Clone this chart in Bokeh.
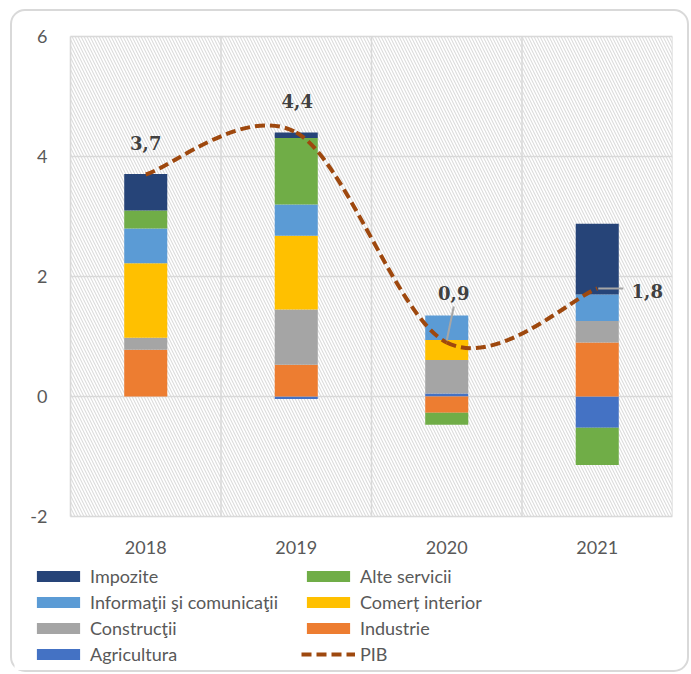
import numpy as np
from bokeh.plotting import figure
from bokeh.models import BoxAnnotation, Legend, LegendItem
from bokeh.core.properties import value
from bokeh.embed import file_html
from bokeh.resources import INLINE

# ---------------- data ----------------
years = ["2018", "2019", "2020", "2021"]
agricultura = [0.00, -0.04, 0.05, -0.52]
industrie = [0.78, 0.53, -0.27, 0.90]
constructii = [0.20, 0.92, 0.56, 0.36]
comert = [1.24, 1.23, 0.33, 0.00]
informatii = [0.58, 0.52, 0.41, 0.44]
alte_servicii = [0.30, 1.11, -0.20, -0.62]
impozite = [0.61, 0.09, 0.00, 1.18]
pib = [3.7, 4.4, 0.9, 1.8]
y_ticks = [-2, 0, 2, 4, 6]

series = [
    ("Agricultura", agricultura, "#4472C4"),
    ("Industrie", industrie, "#ED7D31"),
    ("Construcţii", constructii, "#A5A5A5"),
    ("Comerț interior", comert, "#FFC000"),
    ("Informaţii şi comunicaţii", informatii, "#5B9BD5"),
    ("Alte servicii", alte_servicii, "#70AD47"),
    ("Impozite", impozite, "#264478"),
]
pib_color = "#9E480E"
grid_color = "#D9D9D9"

# ---------------- layout (pixels) ----------------
PX, PY = 150.5, 60.0          # pixels per category / per unit
LEFT_EXTRA, BOTTOM_EXTRA, TOP_EXTRA = 56, 154, 14   # room for tick labels and legend
xs = np.arange(len(years))
x_lo, x_hi = xs[0] - 0.5, xs[-1] + 0.5
y_lo, y_hi = y_ticks[0], y_ticks[-1]

p = figure(
    frame_width=int(round((x_hi - x_lo) * PX)) + LEFT_EXTRA,
    frame_height=int(round((y_hi - y_lo) * PY)) + BOTTOM_EXTRA + TOP_EXTRA,
    x_range=(x_lo - LEFT_EXTRA / PX, x_hi),
    y_range=(y_lo - BOTTOM_EXTRA / PY, y_hi + TOP_EXTRA / PY),
    x_axis_location=None, y_axis_location=None,
    output_backend="svg", toolbar_location=None,
    min_border_left=2, min_border_top=25 - TOP_EXTRA, min_border_right=15,
    min_border_bottom=0,
)
p.styles = {"border": "2px solid #D9D9D9", "border-radius": "15px",
            "margin": "9px 0px 0px 10px"}
p.border_fill_color = None
p.background_fill_color = "white"
p.outline_line_color = None
p.xgrid.visible = False
p.ygrid.visible = False

# hatched plot area with light border
p.add_layout(BoxAnnotation(left=x_lo, right=x_hi, bottom=y_lo, top=y_hi,
                           fill_alpha=0, line_color=grid_color, line_width=1.5,
                           hatch_pattern="\\", hatch_color="#DCDCDC",
                           hatch_scale=6, hatch_weight=1.1, level="image"))

# grid lines restricted to the plot area
p.segment(x0=[x_lo] * len(y_ticks), x1=[x_hi] * len(y_ticks), y0=y_ticks, y1=y_ticks,
          line_color=grid_color, line_width=1.5)
bounds_x = list(np.arange(x_lo, x_hi + 0.01, 1.0))
p.segment(x0=bounds_x, x1=bounds_x, y0=[y_lo] * len(bounds_x), y1=[y_hi] * len(bounds_x),
          line_color=grid_color, line_width=1.5)

# tick labels
p.text(x=[x_lo] * len(y_ticks), y=y_ticks, text=[str(t) for t in y_ticks],
       x_offset=-23, text_font=value("Lato"), text_font_size="18px",
       text_color="#595959", text_align="right", text_baseline="middle")
p.text(x=xs, y=[y_lo] * len(years), text=years, y_offset=31,
       text_font=value("Lato"), text_font_size="18px",
       text_color="#595959", text_align="center", text_baseline="middle")

# stacked bars (positive up, negative down)
pos = np.zeros(len(years))
neg = np.zeros(len(years))
bar_r = {}
for name, vals, col in series:
    v = np.array(vals, dtype=float)
    bottom = np.where(v >= 0, pos, neg)
    top = bottom + v
    pos = np.where(v >= 0, pos + v, pos)
    neg = np.where(v < 0, neg + v, neg)
    bar_r[name] = p.vbar(x=xs, width=0.286, bottom=bottom, top=top,
                         fill_color=col, line_color=None)

# smoothed PIB line (cubic Bezier segments through the data points)
P = np.array(pib, dtype=float)
X = xs.astype(float)
x0, y0, x1, y1 = X[:-1], P[:-1], X[1:], P[1:]
xprev = np.concatenate([[X[0]], X[:-2]]); yprev = np.concatenate([[P[0]], P[:-2]])
xnext = np.concatenate([X[2:], [X[-1]]]); ynext = np.concatenate([P[2:], [P[-1]]])
cx0 = x0 + (x1 - xprev) / 6; cy0 = y0 + (y1 - yprev) / 6
cx1 = x1 - (xnext - x0) / 6; cy1 = y1 - (ynext - y0) / 6
pib_r = p.bezier(x0=x0, y0=y0, x1=x1, y1=y1, cx0=cx0, cy0=cy0, cx1=cx1, cy1=cy1,
                 line_color=pib_color, line_width=4, line_dash="10 5")

# value labels
lab_dx = [0, 1, 7, 50]
lab_dy = [-32, -32, -50, 2]
labels = [f"{v:.1f}".replace(".", ",") for v in pib]

# leader lines for 2020 and 2021
p.segment(x0=[X[2], X[3] + 1 / PX], y0=[P[2] + 2 / PY, P[3]],
          x1=[X[2] + 7 / PX, X[3] + 26 / PX], y1=[P[2] + 36 / PY, P[3]],
          line_color="#A6A6A6", line_width=2)

p.text(x=X, y=P, text=labels, x_offset=lab_dx, y_offset=lab_dy,
       text_font=value("DejaVu Serif"), text_font_style="bold", text_font_size="18px",
       text_color="#404040", text_align="center", text_baseline="middle")

# legend (column-major: left column then right column)
order = ["Impozite", "Informaţii şi comunicaţii", "Construcţii", "Agricultura",
         "Alte servicii", "Comerț interior", "Industrie", "PIB"]
items = []
for nm in order:
    r = pib_r if nm == "PIB" else bar_r[nm]
    items.append(LegendItem(label=nm, renderers=[r]))
legend = Legend(items=items, ncols=2, orientation="vertical",
                location=(17, 5), padding=0, margin=0, spacing=4,
                glyph_width=54, glyph_height=14, label_standoff=5,
                label_width=207, label_height=22,
                label_text_font="Lato", label_text_font_size="18px",
                label_text_color="#595959",
                border_line_color=None, background_fill_alpha=0)
p.add_layout(legend, "center")

open("out.html", "w").write(file_html(p, INLINE))
